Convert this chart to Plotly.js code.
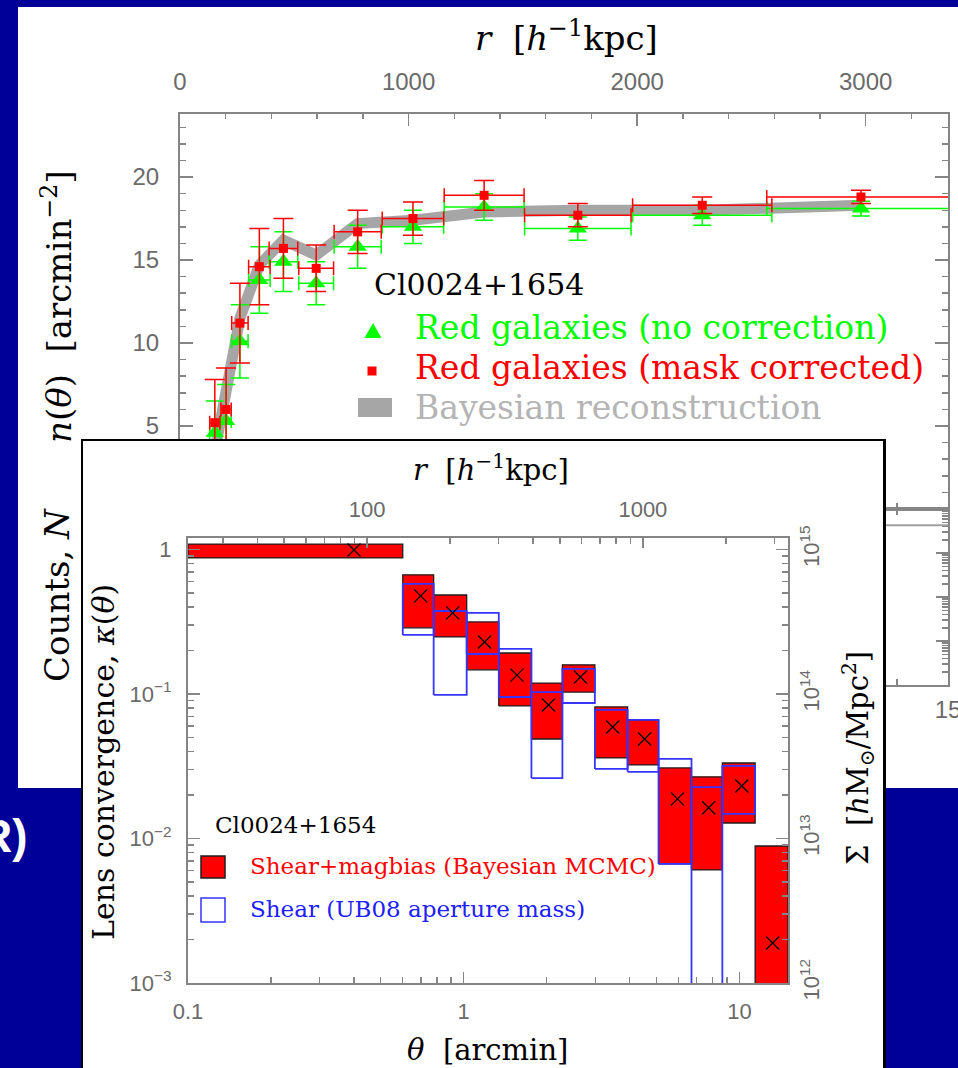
<!DOCTYPE html>
<html><head><meta charset="utf-8">
<script src="https://cdn.plot.ly/plotly-3.0.1.min.js"></script>
<style>html,body{margin:0;padding:0;background:#000099;} #chart{width:958px;height:1068px;}</style>
</head><body><div id="chart"></div>
<script>
// ---------------- Top panel: galaxy number density n(theta) ----------------
const thetaPts        = [0.68, 0.90, 1.17, 1.55, 2.02, 2.66, 3.47, 4.55, 5.94, 7.77, 10.2, 13.3];
const thetaHalfWidth  = [0.10, 0.10, 0.16, 0.21, 0.28, 0.34, 0.46, 0.60, 0.78, 1.04, 1.36, 1.84];
const nMaskCorrected  = [5.2, 6.0, 11.2, 14.6, 15.7, 14.5, 16.7, 17.5, 18.9, 17.7, 18.3, 18.8];
const nMaskErr        = [2.6, 2.5, 2.4, 2.3, 1.8, 1.4, 1.3, 1.0, 0.9, 0.7, 0.5, 0.4];
const nNoCorrection   = [4.6, 5.3, 10.1, 13.8, 14.9, 13.6, 15.8, 17.0, 18.2, 16.9, 17.7, 18.1];
const nNoCorrErr      = [1.9, 2.2, 2.2, 2.0, 1.8, 1.3, 1.3, 1.0, 0.8, 0.7, 0.6, 0.45];
const nBayesian       = [3.5, 7.5, 11.5, 14.7, 16.2, 15.3, 17.2, 17.4, 17.9, 18.0, 18.0, 18.3];

// ---------------- Bottom panel (counts N, mostly hidden behind inset) ----------------
const countsTheta = [12.7, 15.0];
const countsN     = [4300, 4300];

// ---------------- Inset: lens convergence kappa(theta) ----------------
const binLo      = [0.10, 0.601, 0.778, 1.025, 1.34, 1.76, 2.28, 2.99, 3.93, 5.09, 6.70, 8.67, 11.4];
const binHi      = [0.601, 0.778, 1.025, 1.34, 1.76, 2.28, 2.99, 3.93, 5.09, 6.70, 8.67, 11.4, 15.0];
const thetaKappa = [0.40, 0.698, 0.912, 1.19, 1.56, 2.03, 2.65, 3.47, 4.53, 5.96, 7.73, 10.2, 13.2];
const kappa      = [0.99, 0.477, 0.364, 0.229, 0.135, 0.0839, 0.131, 0.0591, 0.0488, 0.0188, 0.0163, 0.0231, 0.00189];
const mcmcHi     = [1.09, 0.667, 0.484, 0.315, 0.192, 0.119, 0.159, 0.0813, 0.0661, 0.0308, 0.0267, 0.0333, 0.00887];
const mcmcLo     = [0.873, 0.287, 0.248, 0.147, 0.0826, 0.0488, 0.103, 0.0361, 0.0323, 0.00667, 0.00606, 0.0128, 0.0005];
const ub08Hi     = [null, 0.577, 0.375, 0.364, 0.205, 0.103, 0.149, 0.0775, 0.0661, 0.0355, 0.0227, 0.0318, null];
const ub08Lo     = [null, 0.256, 0.0985, 0.189, 0.0953, 0.0262, 0.0866, 0.0303, 0.0289, 0.00667, 0.0005, 0.0148, null];

const KPC_PER_ARCMIN = 224;   // r [h^-1 kpc] = theta [arcmin] * this
const SIGMA_CRIT = 1e15;      // Sigma [h Msun / Mpc^2] = kappa * this

// ---------------- layout helpers ----------------
const W = 958, H = 1068;
const PX = v => v / W, PY = v => 1 - v / H;
const GREY = '#858585', TICKC = '#6a6a6a';
const SANS = 'Liberation Sans, Arial, sans-serif';
const SERIF = 'DejaVu Serif, serif';
const RED = '#ff0000', GREEN = '#00ff00', BLUE = '#3535ff', BAND = '#a6a6a6';

function logMinor(lo, hi) {
  const v = [];
  for (let d = lo; d < hi; d *= 10) for (let m = 2; m <= 9; m++) v.push(+(m * d).toPrecision(6));
  return v;
}
function axBase(extra) {
  return Object.assign({
    showgrid: false, zeroline: false, showline: true, linecolor: GREY, linewidth: 2,
    ticks: 'inside', tickcolor: GREY, tickwidth: 1.5,
    tickfont: {family: SANS, size: 24, color: TICKC}, fixedrange: true
  }, extra);
}
const minorT = (o) => Object.assign({ticks: 'inside', tickcolor: GREY, tickwidth: 1.5, ticklen: 6}, o);

const traces = [];
// dummy traces so that every subplot / overlay exists
[['x3','y3'], ['x5','y'], ['x6','y4'], ['x4','y6']].forEach(([xa, ya]) =>
  traces.push({type: 'scatter', x: [null], y: [null], xaxis: xa, yaxis: ya, mode: 'markers', hoverinfo: 'skip', showlegend: false}));

// top panel
traces.push({type: 'scatter', x: thetaPts, y: nBayesian, mode: 'lines', line: {color: BAND, width: 11},
  xaxis: 'x', yaxis: 'y', hoverinfo: 'skip'});
traces.push({type: 'scatter', x: thetaPts, y: nNoCorrection, mode: 'markers',
  marker: {symbol: 'triangle-up', size: 16, color: GREEN, line: {width: 0}},
  error_y: {type: 'data', array: nNoCorrErr, color: GREEN, thickness: 1.5, width: 9},
  error_x: {type: 'data', array: thetaHalfWidth, color: GREEN, thickness: 1.5, width: 7},
  xaxis: 'x', yaxis: 'y'});
traces.push({type: 'scatter', x: thetaPts, y: nMaskCorrected, mode: 'markers',
  marker: {symbol: 'square', size: 9, color: RED, line: {width: 0}},
  error_y: {type: 'data', array: nMaskErr, color: RED, thickness: 1.5, width: 10},
  error_x: {type: 'data', array: thetaHalfWidth, color: RED, thickness: 1.5, width: 7},
  xaxis: 'x', yaxis: 'y'});

// bottom panel
traces.push({type: 'scatter', x: countsTheta, y: countsN, mode: 'lines', line: {color: '#a0a0a0', width: 2},
  xaxis: 'x2', yaxis: 'y2', hoverinfo: 'skip'});

// inset boxes
for (let i = 0; i < binLo.length; i++) {
  traces.push({type: 'scatter', mode: 'lines', fill: 'toself', fillcolor: RED,
    x: [binLo[i], binHi[i], binHi[i], binLo[i], binLo[i]],
    y: [mcmcLo[i], mcmcLo[i], mcmcHi[i], mcmcHi[i], mcmcLo[i]],
    line: {color: '#1e1e1e', width: 1.3}, xaxis: 'x4', yaxis: 'y4', hoverinfo: 'skip'});
}
for (let i = 0; i < binLo.length; i++) {
  if (ub08Hi[i] === null) continue;
  traces.push({type: 'scatter', mode: 'lines',
    x: [binLo[i], binHi[i], binHi[i], binLo[i], binLo[i]],
    y: [ub08Lo[i], ub08Lo[i], ub08Hi[i], ub08Hi[i], ub08Lo[i]],
    line: {color: BLUE, width: 1.8}, xaxis: 'x4', yaxis: 'y4', hoverinfo: 'skip'});
}
traces.push({type: 'scatter', mode: 'markers', x: thetaKappa, y: kappa,
  marker: {symbol: 'x-thin', size: 13, color: '#000', line: {color: '#000', width: 1.3}},
  xaxis: 'x4', yaxis: 'y4'});

const kyr = [-3, Math.log10(1.2)];
const kxr = [-1, Math.log10(15)];

const layout = {
  width: W, height: H, autosize: false, showlegend: false,
  margin: {l: 0, r: 0, t: 0, b: 0, pad: 0},
  paper_bgcolor: '#000099', plot_bgcolor: '#ffffff',
  // top panel
  xaxis: axBase({domain: [PX(180), PX(948)], anchor: 'y', range: [0, 15], dtick: 5, tick0: 0, ticklen: 12,
    minor: minorT({dtick: 1}), showticklabels: false}),
  yaxis: axBase({domain: [PY(509), PY(114)], anchor: 'x', range: [0, 23.8], dtick: 5, tick0: 0, ticklen: 13,
    minor: minorT({dtick: 1}), mirror: 'ticks', ticklabelstandoff: 14}),
  xaxis5: axBase({overlaying: 'x', side: 'top', anchor: 'y', range: [0, 15 * KPC_PER_ARCMIN], dtick: 1000, tick0: 0,
    ticklen: 12, minor: minorT({dtick: 200, ticklen: 5}), ticklabelstandoff: 12}),
  // bottom panel
  xaxis2: axBase({domain: [PX(180), PX(948)], anchor: 'y2', range: [0, 15], dtick: 5, tick0: 0, ticklen: 12,
    minor: minorT({dtick: 1}), mirror: 'ticks', ticklabeloverflow: 'allow', ticklabelstandoff: 2}),
  yaxis2: axBase({domain: [PY(685), PY(509)], anchor: 'x2', type: 'log', range: [0, 4], dtick: 1, ticklen: 12,
    minor: minorT({tickvals: logMinor(1, 1e4)}), mirror: 'ticks', showticklabels: false}),
  // inset frame
  xaxis3: {domain: [PX(83), PX(883)], anchor: 'y3', range: [0, 1], side: 'top', showline: true, linecolor: '#000',
    linewidth: 2.5, showticklabels: false, ticks: '', showgrid: false, zeroline: false, fixedrange: true},
  yaxis3: {domain: [0, PY(441)], anchor: 'x3', range: [0, 1], showline: true, mirror: true, linecolor: '#000',
    linewidth: 2.5, showticklabels: false, ticks: '', showgrid: false, zeroline: false, fixedrange: true},
  // inset plot
  xaxis4: axBase({domain: [PX(188), PX(788)], anchor: 'y4', type: 'log', range: kxr,
    tickvals: [0.1, 1, 10], ticktext: ['0.1', '1', '10'], ticklen: 11,
    minor: minorT({tickvals: logMinor(0.1, 10)}), tickfont: {family: SANS, size: 22, color: TICKC}, ticklabelstandoff: 8}),
  yaxis4: axBase({domain: [PY(983), PY(538)], anchor: 'x4', type: 'log', range: kyr,
    tickvals: [1e-3, 1e-2, 1e-1, 1], ticktext: ['10<sup>\u22123</sup>', '10<sup>\u22122</sup>', '10<sup>\u22121</sup>', '1'],
    ticklen: 12, minor: minorT({tickvals: logMinor(1e-3, 1)}), tickfont: {family: SANS, size: 22, color: TICKC}, ticklabelstandoff: 10}),
  xaxis6: axBase({overlaying: 'x4', side: 'top', anchor: 'y4', type: 'log',
    range: [Math.log10(0.1 * KPC_PER_ARCMIN), Math.log10(15 * KPC_PER_ARCMIN)],
    tickvals: [100, 1000], ticktext: ['100', '1000'], ticklen: 10,
    minor: minorT({tickvals: logMinor(10, 1e4).filter(v => v >= 22.4 && v <= 3360)}),
    tickfont: {family: SANS, size: 22, color: TICKC}, ticklabelstandoff: 10}),
  yaxis6: axBase({overlaying: 'y4', side: 'right', anchor: 'x4', type: 'log',
    range: [Math.log10(1e-3 * SIGMA_CRIT), Math.log10(1.2 * SIGMA_CRIT)],
    tickvals: [1e12, 1e13, 1e14, 1e15], ticktext: ['10<sup>12</sup>', '10<sup>13</sup>', '10<sup>14</sup>', '10<sup>15</sup>'],
    tickangle: -90, ticklen: 12, minor: minorT({tickvals: logMinor(1e12, 1e15)}),
    tickfont: {family: SANS, size: 22, color: TICKC}, ticklabelstandoff: 3}),
  shapes: [
    {type: 'rect', xref: 'paper', yref: 'paper', x0: PX(18), x1: PX(970), y0: PY(788), y1: PY(7),
      fillcolor: '#ffffff', line: {width: 0}, layer: 'below'},
    // top legend swatches
    {type: 'path', xref: 'paper', yref: 'paper', layer: 'above',
      path: `M ${PX(364.5)},${PY(338)} L ${PX(381.5)},${PY(338)} L ${PX(373)},${PY(323)} Z`,
      fillcolor: GREEN, line: {width: 0}},
    {type: 'rect', xref: 'paper', yref: 'paper', layer: 'above', x0: PX(367.5), x1: PX(376.5), y0: PY(375.5), y1: PY(366.5),
      fillcolor: RED, line: {width: 0}},
    {type: 'rect', xref: 'paper', yref: 'paper', layer: 'above', x0: PX(358), x1: PX(392), y0: PY(417), y1: PY(398),
      fillcolor: BAND, line: {width: 0}},
    // inset legend swatches
    {type: 'rect', xref: 'paper', yref: 'paper', layer: 'above', x0: PX(201), x1: PX(225), y0: PY(878), y1: PY(856),
      fillcolor: RED, line: {color: '#1e1e1e', width: 1.5}},
    {type: 'rect', xref: 'paper', yref: 'paper', layer: 'above', x0: PX(201), x1: PX(225), y0: PY(922), y1: PY(898),
      fillcolor: 'rgba(0,0,0,0)', line: {color: BLUE, width: 1.5}}
  ],
  annotations: []
};

function ann(text, x, y, o) {
  return Object.assign({xref: 'paper', yref: 'paper', x: PX(x), y: PY(y), text: text, showarrow: false,
    xanchor: 'center', yanchor: 'middle', font: {family: SERIF, size: 34, color: '#000'}}, o || {});
}
const NB = '\u00a0';
layout.annotations.push(
  ann('<i>r</i>' + NB + NB + '[<i>h</i><sup>\u22121</sup>kpc]', 566, 36),
  ann('<i>n</i>(<i>θ</i>)' + NB + NB + '[arcmin<sup>\u22122</sup>]', 57, 307, {textangle: -90}),
  ann('Counts,' + NB + '<i>N</i>', 57, 595, {textangle: -90}),
  ann('Cl0024+1654', 372, 285, {xanchor: 'left', font: {family: SERIF, size: 30, color: '#000'}}),
  ann('Red galaxies (no correction)', 413, 327, {xanchor: 'left', font: {family: SERIF, size: 33, color: GREEN}}),
  ann('Red galaxies (mask corrected)', 413, 367, {xanchor: 'left', font: {family: SERIF, size: 33, color: RED}}),
  ann('Bayesian reconstruction', 413, 407, {xanchor: 'left', font: {family: SERIF, size: 33, color: '#b4b4b4'}}),
  // inset titles
  ann('<i>r</i>' + NB + NB + '[<i>h</i><sup>\u22121</sup>kpc]', 491, 468, {font: {family: SERIF, size: 29, color: '#000'}}),
  ann('<i>θ</i>' + NB + NB + '[arcmin]', 487, 1050, {font: {family: SERIF, size: 29, color: '#000'}}),
  ann('Lens convergence,' + NB + '<i>κ</i>(<i>θ</i>)', 103, 762, {textangle: -90, font: {family: SERIF, size: 30, color: '#000'}}),
  ann('Σ' + NB + NB + '[<i>h</i>M<sub>⊙</sub>/Mpc<sup>2</sup>]', 858, 758, {textangle: -90, font: {family: SERIF, size: 29, color: '#000'}}),
  ann('Cl0024+1654', 213, 825, {xanchor: 'left', font: {family: SERIF, size: 23, color: '#000'}}),
  ann('Shear+magbias (Bayesian MCMC)', 248, 866, {xanchor: 'left', font: {family: SERIF, size: 23, color: RED}}),
  ann('Shear (UB08 aperture mass)', 248, 909, {xanchor: 'left', font: {family: SERIF, size: 23, color: '#2020ff'}}),
  ann('<b>R)</b>', 30, 836, {xanchor: 'right', font: {family: SANS, size: 46, color: '#ffffff'}})
);

Plotly.newPlot('chart', traces, layout, {staticPlot: true, displayModeBar: false});
</script>
</body></html>
